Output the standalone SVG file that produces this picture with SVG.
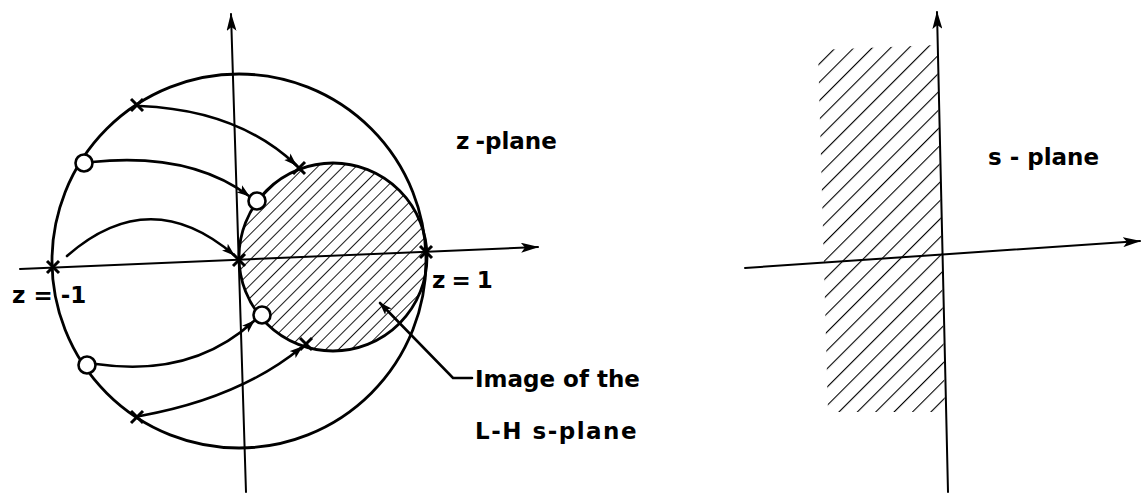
<svg xmlns="http://www.w3.org/2000/svg" width="1142" height="498" viewBox="0 0 1142 498">
<style>
.ln{fill:none;stroke:#000;stroke-width:2.8;stroke-linecap:round}
.ax{fill:none;stroke:#000;stroke-width:2;stroke-linecap:round}
.cv{fill:none;stroke:#000;stroke-width:2.6;stroke-linecap:round}
.op{fill:#fff;stroke:#000;stroke-width:2.6}
.x{stroke:#000;stroke-width:3;stroke-linecap:butt}
.t{font-family:"DejaVu Sans","Liberation Sans",sans-serif;font-weight:bold;font-size:23px;fill:#000}
</style>
<defs>
<marker id="ah" markerWidth="13" markerHeight="10" refX="12" refY="5" orient="auto" markerUnits="userSpaceOnUse"><path d="M0,0.5 L13,5 L0,9.5 L3,5 Z" fill="#000"/></marker>
<marker id="axh" markerWidth="18" markerHeight="10" refX="17" refY="5" orient="auto" markerUnits="userSpaceOnUse"><path d="M0,0 L18,5 L0,10 L4,5 Z" fill="#000"/></marker>
<pattern id="hatchL" width="9" height="9" patternUnits="userSpaceOnUse" patternTransform="rotate(45)"><line x1="0" y1="0" x2="0" y2="9" stroke="#000" stroke-width="1.8"/></pattern>
<pattern id="hatchR" width="13" height="13" patternUnits="userSpaceOnUse" patternTransform="rotate(45)"><line x1="0" y1="0" x2="0" y2="13" stroke="#000" stroke-width="2.2"/></pattern>
<g id="cross"><line class="x" x1="-6" y1="-6" x2="6" y2="6"/><line class="x" x1="-6" y1="6" x2="6" y2="-6"/></g>
</defs>
<rect width="1142" height="498" fill="#fff"/>

<g id="z-plane">
<g id="unit-circle"><circle class="ln" cx="239" cy="261" r="187"/></g>
<g id="image-region"><circle cx="333" cy="257" r="94" fill="url(#hatchL)" stroke="#000" stroke-width="2.8"/></g>
<g id="z-axes">
<line class="ax" x1="20" y1="269" x2="538" y2="247" marker-end="url(#axh)"/>
<line class="ax" x1="246" y1="492" x2="231" y2="14" marker-end="url(#axh)"/>
</g>
<g id="connectors">
<path class="cv" d="M140,106 Q238,110 296,165" marker-end="url(#ah)"/>
<path class="cv" d="M92,162 Q190,152 249,196" marker-end="url(#ah)"/>
<path class="cv" d="M67,256 Q150,183 234,255" marker-end="url(#ah)"/>
<path class="cv" d="M96,364 Q192,378 254,321" marker-end="url(#ah)"/>
<path class="cv" d="M140,416 Q240,398 302,347" marker-end="url(#ah)"/>
<path class="cv" d="M472,378 L453,378 L380,303" marker-end="url(#ah)"/>
</g>
<g id="marker-c1"><use href="#cross" x="137" y="105"/></g>
<g id="marker-o1"><circle class="op" cx="84" cy="163" r="8.5"/></g>
<g id="marker-zm1"><use href="#cross" x="53" y="267"/></g>
<g id="marker-o2"><circle class="op" cx="87" cy="365" r="8.5"/></g>
<g id="marker-c2"><use href="#cross" x="137" y="417"/></g>
<g id="marker-c1i"><use href="#cross" x="299" y="168"/></g>
<g id="marker-o1i"><circle class="op" cx="257" cy="201" r="8.5"/></g>
<g id="marker-origin"><use href="#cross" x="239" y="260"/></g>
<g id="marker-o2i"><circle class="op" cx="262" cy="315" r="8.5"/></g>
<g id="marker-c2i"><use href="#cross" x="306" y="344"/></g>
<g id="marker-z1"><use href="#cross" x="426" y="252"/></g>
<g id="labels-z">
<text class="t" x="12" y="303">z = -1</text>
<text class="t" x="432" y="288" letter-spacing="-1">z = 1</text>
<text class="t" x="456" y="149">z<tspan dx="6">-plane</tspan></text>
<text class="t" x="475" y="387">Image of the</text>
<text class="t" x="475" y="439" letter-spacing="1.5">L-H s-plane</text>
</g>
</g>

<g id="s-plane">
<g id="lh-region"><polygon points="818,50 937,45 945,412 828,412" fill="url(#hatchR)"/></g>
<g id="s-axes">
<line class="ax" x1="745" y1="268" x2="1140" y2="241" marker-end="url(#axh)"/>
<line class="ax" x1="948" y1="492" x2="937" y2="12" marker-end="url(#axh)"/>
</g>
<text class="t" x="988" y="165">s - plane</text>
</g>
</svg>
